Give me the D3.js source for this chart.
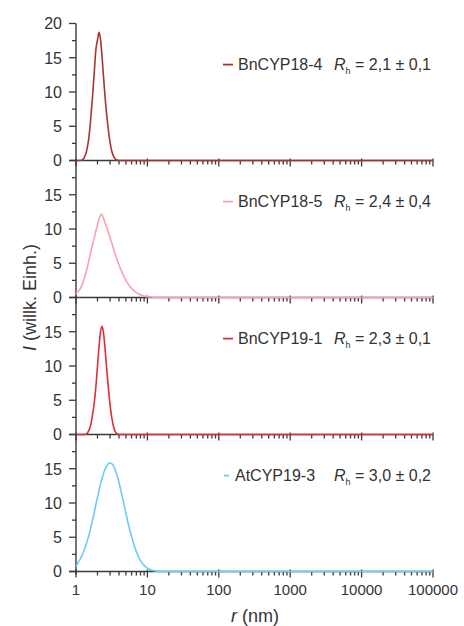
<!DOCTYPE html>
<html><head><meta charset="utf-8">
<script src="https://cdn.jsdelivr.net/npm/d3@7"></script>
<style>
body{margin:0;background:#fff;}
text{font-family:"Liberation Sans",Arial,Helvetica,sans-serif;fill:#333;}
</style></head>
<body><svg id="c" width="464" height="626"></svg>
<script>
// ---- data ----
const seriesNames = ["BnCYP18-4","BnCYP18-5","BnCYP19-1","AtCYP19-3"];
const rhLabels = ["2,1 ± 0,1","2,4 ± 0,4","2,3 ± 0,1","3,0 ± 0,2"];
const seriesColors = ["#a93235","#f7a3ad","#e52d34","#6ccdf2"];
const radius = [1,1.1,1.2,1.3,1.4,1.5,1.6,1.7,1.8,1.9,2.0,2.1,2.2,2.3,2.4,2.5,2.6,2.8,3.0,3.2,3.4,3.6,3.8,4.0,4.5,5,5.5,6,7,8,9,10,11,12,14,20,100,1000,10000,100000];
const intBnCYP18_4 = [0,0,0.05,0.4,1.3,3.0,5.8,9.2,12.8,16.2,17.6,18.7,17.8,15.6,13.0,10.5,8.3,5.0,2.6,1.2,0.5,0.15,0.05,0,0,0,0,0,0,0,0,0,0,0,0,0,0,0,0,0];
const intBnCYP18_5 = [0.6,1.0,1.7,2.7,3.9,5.2,6.5,7.7,8.7,9.7,10.6,11.4,12.0,12.2,11.7,11.2,10.7,9.7,8.7,7.8,6.9,6.1,5.4,4.75,3.5,2.5,1.82,1.33,0.72,0.4,0.23,0.13,0.08,0.04,0.01,0,0,0,0,0];
const intBnCYP19_1 = [0,0,0,0,0.1,0.5,1.3,2.8,4.6,7.0,10.0,12.8,14.9,15.8,15.2,13.6,11.5,7.5,4.3,2.2,0.9,0.3,0.1,0,0,0,0,0,0,0,0,0,0,0,0,0,0,0,0,0];
const intAtCYP19_3 = [0.7,1.5,2.2,3.1,4.1,5.1,6.3,7.4,8.6,9.8,10.8,11.8,12.7,13.5,14.1,14.7,15.1,15.7,15.85,15.7,15.3,14.6,13.9,13.0,10.7,8.5,6.6,5.1,2.9,1.6,0.9,0.5,0.3,0.15,0.03,0,0,0,0,0];
const intensities = [intBnCYP18_4,intBnCYP18_5,intBnCYP19_1,intAtCYP19_3];
const xTickValues = [1,10,100,1000,10000,100000];
const yTickValues = [0,5,10,15,20];
const xLabel = "r";
const xUnit = " (nm)";
const yLabelVar = "I";
const yLabelRest = " (willk. Einh.)";

// ---- layout ----
const svg = d3.select("#c");
const mLeft = 76, mRight = 433, mTop = 23.5, panelH = 137;
const x = d3.scaleLog().domain([1,100000]).range([mLeft,mRight]);
const axisColor = "#3a3a3a";

const minorX = [];
for (let d = 1; d < 100000; d *= 10) for (let k = 2; k <= 9; k++) minorX.push(d*k);

seriesNames.forEach((name, i) => {
  const y0 = mTop + panelH*i;
  const y = d3.scaleLinear().domain([0,20]).range([y0+panelH, y0]);
  const g = svg.append("g");
  const majors = i === 0 ? yTickValues : yTickValues.filter(v => v < 20);
  const minors = d3.range(2.5, 20, 5);
  g.append("line").attr("x1",mLeft).attr("x2",mLeft).attr("y1",y(20)).attr("y2",y(0)+(i===3?3:0))
    .attr("stroke",axisColor).attr("stroke-width",1.4);
  majors.forEach(v => {
    g.append("line").attr("x1",mLeft-7).attr("x2",mLeft).attr("y1",y(v)).attr("y2",y(v)).attr("stroke",axisColor).attr("stroke-width",1.3);
    g.append("text").attr("x",mLeft-14).attr("y",y(v)).attr("dy","0.36em").attr("text-anchor","end")
      .attr("font-size",16).text(v);
  });
  minors.forEach(v => {
    g.append("line").attr("x1",mLeft-4).attr("x2",mLeft).attr("y1",y(v)).attr("y2",y(v)).attr("stroke",axisColor).attr("stroke-width",1.3);
  });
  g.append("line").attr("x1",mLeft-7).attr("x2",mRight).attr("y1",y(0)).attr("y2",y(0)).attr("stroke",axisColor).attr("stroke-width",1.3);
  xTickValues.forEach(v => {
    g.append("line").attr("x1",x(v)).attr("x2",x(v)).attr("y1",y(0)-2).attr("y2",y(0)+6).attr("stroke",axisColor).attr("stroke-width",1.3);
  });
  minorX.forEach(v => {
    g.append("line").attr("x1",x(v)).attr("x2",x(v)).attr("y1",y(0)).attr("y2",y(0)+4).attr("stroke",axisColor).attr("stroke-width",1.3);
  });
  const pts = radius.map((r,j) => [r, intensities[i][j]]);
  const line = d3.line().x(d => x(d[0])).y(d => y(d[1])).curve(d3.curveMonotoneX);
  g.append("path").attr("d", line(pts)).attr("fill","none").attr("stroke",seriesColors[i]).attr("stroke-width",1.6);
  const ly = y(14);
  g.append("line").attr("x1",i===3?224:223).attr("x2",i===3?229:233).attr("y1",ly).attr("y2",ly).attr("stroke",seriesColors[i]).attr("stroke-width",1.8);
  g.append("text").attr("x",i===3?235:238).attr("y",ly).attr("dy","0.36em").attr("font-size",16).text(name);
  const t = g.append("text").attr("x",431).attr("y",ly).attr("dy","0.36em").attr("font-size",16).attr("text-anchor","end");
  t.append("tspan").attr("font-style","italic").text("R");
  t.append("tspan").attr("font-size",9).attr("dy","4").text("h");
  t.append("tspan").attr("dy","-4").text(" = " + rhLabels[i]);
});

const yb = mTop + panelH*4;
xTickValues.forEach(v => {
  svg.append("text").attr("x",x(v)).attr("y",yb+23).attr("text-anchor","middle").attr("font-size",15).text(v);
});
const xl = svg.append("text").attr("x",255).attr("y",622).attr("text-anchor","middle").attr("font-size",18);
xl.append("tspan").attr("font-style","italic").text(xLabel);
xl.append("tspan").text(xUnit);
const yl = svg.append("text").attr("transform","translate(36,"+(mTop+panelH*2)+") rotate(-90)").attr("text-anchor","middle").attr("font-size",18);
yl.append("tspan").attr("font-style","italic").text(yLabelVar);
yl.append("tspan").text(yLabelRest);
</script></body></html>
